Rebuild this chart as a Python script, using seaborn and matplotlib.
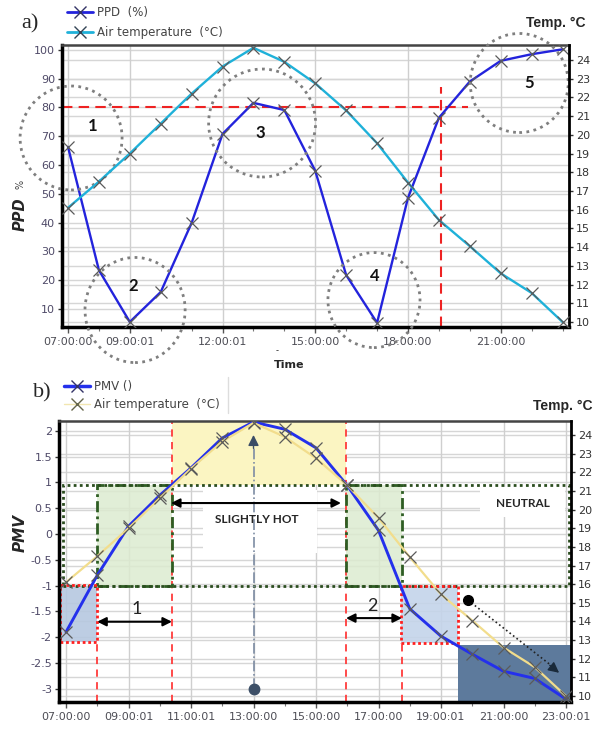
import matplotlib
matplotlib.use('Agg')
import matplotlib.pyplot as plt
import seaborn as sns
from matplotlib.patches import Ellipse, Rectangle
from matplotlib.lines import Line2D

# hourly readings, 07:00 .. 23:00
hours = [7, 8, 9, 10, 11, 12, 13, 14, 15, 16, 17, 18, 19, 20, 21, 22, 23]
ppd = [66.3, 23.5, 5.5, 15.9, 39.9, 70.8, 81.6, 79.1, 58.0, 21.8, 5.2, 48.6, 76.4, 89.0, 96.2, 98.5, 100.2]
air_temp = [16.1, 17.5, 19.0, 20.6, 22.2, 23.65, 24.65, 23.9, 22.75, 21.3, 19.55, 17.45, 15.45, 14.05, 12.6, 11.55, 10.0]
pmv = [-1.9, -0.8, 0.15, 0.75, 1.28, 1.86, 2.17, 2.03, 1.67, 0.94, 0.07, -1.45, -1.98, -2.33, -2.66, -2.8, -3.2]

ticks_a = [7, 9, 12, 15, 18, 21]
labels_a = ["07:00:00", "09:00:01", "12:00:01", "15:00:00", "18:00:00", "21:00:00"]
ticks_b = [7, 9, 11, 13, 15, 17, 19, 21, 23]
labels_b = ["07:00:00", "09:00:01", "11:00:01", "13:00:00", "15:00:00",
            "17:00:00", "19:00:01", "21:00:00", "23:00:01"]
ppd_ticks = [10, 20, 30, 40, 50, 60, 70, 80, 90, 100]
pmv_ticks = [-3, -2.5, -2, -1.5, -1, -0.5, 0, 0.5, 1, 1.5, 2]
temp_ticks = list(range(10, 25))

sns.set_style("white")
plt.rcParams['font.family'] = ['DejaVu Sans']

GRID = '#d6d6d6'
MARK = '#5a5a5a'

fig = plt.figure(figsize=(5.96, 7.29), dpi=100)
W, H = 596, 729
ax_a = fig.add_axes([62 / W, 1 - 327 / H, (569 - 62) / W, (327 - 45) / H])
ax_b = fig.add_axes([59 / W, 1 - 702 / H, (571 - 59) / W, (702 - 421) / H])


def setup(ax, xlim, ylim, y2lim, xt, xl, yt):
    ax2 = ax.twinx()
    ax.set_xlim(xlim)
    ax.set_ylim(ylim)
    ax2.set_ylim(y2lim)
    ax.set_xticks(xt)
    ax.set_xticklabels(xl)
    ax.set_xticks(hours, minor=True)
    ax.set_yticks(yt)
    ax.set_yticklabels([f"{v:g}" for v in yt])
    ax2.set_yticks(temp_ticks)
    ax.grid(False)
    ax2.grid(False)
    # gridlines for both scales drawn on the main axes
    for v in yt:
        ax.axhline(v, color=GRID, lw=1, zorder=0.3)
    for t in temp_ticks:
        yy = ylim[0] + (t - y2lim[0]) / (y2lim[1] - y2lim[0]) * (ylim[1] - ylim[0])
        ax.axhline(yy, color=GRID, lw=1, zorder=0.3)
    for v in xt:
        ax.axvline(v, color='#cfcfcf', lw=1, zorder=0.3)
    ax.tick_params(axis='y', left=True, length=3, width=1, color='#333333',
                   labelsize=8, labelcolor='#4f4a68', pad=2)
    ax.tick_params(axis='x', which='major', bottom=True, length=4, width=1,
                   color='#555555', labelsize=8, labelcolor='#4d4d55', pad=3)
    ax.tick_params(axis='x', which='minor', bottom=True, length=3, width=0.8, color='#777777')
    ax2.tick_params(axis='y', right=True, length=3, width=1, color='#333333',
                    labelsize=8, labelcolor='#333333', pad=2)
    for s in ax2.spines.values():
        s.set_visible(False)
    ax2.spines['right'].set_visible(True)
    ax2.spines['right'].set_color('black')
    ax2.spines['right'].set_linewidth(2)
    ax.spines['right'].set_visible(False)
    ax.spines['left'].set_linewidth(2.5)
    ax.spines['left'].set_color('black')
    ax.spines['bottom'].set_linewidth(2.5)
    ax.spines['bottom'].set_color('black')
    ax.spines['top'].set_linewidth(1.8)
    ax.spines['top'].set_color('#444444')
    return ax2


# ---------------- panel a ----------------
ax_a2 = setup(ax_a, (6.806, 23.21), (3.75, 101.7), (9.73, 24.8), ticks_a, labels_a, ppd_ticks)

sns.lineplot(x=hours, y=ppd, ax=ax_a, color='#2323dc', lw=1.7, marker='x', markersize=8,
             markeredgecolor=MARK, markeredgewidth=0.9, zorder=3, legend=False)
sns.lineplot(x=hours, y=air_temp, ax=ax_a2, color='#1fb1d9', lw=1.7, marker='x', markersize=8,
             markeredgecolor=MARK, markeredgewidth=0.9, zorder=3, legend=False)

ax_a.plot([6.806, 19.94], [80, 80], color='#ee2222', lw=1.5, ls=(0, (5, 3)), zorder=2)
ax_a.plot([19.07, 19.07], [3.75, 87.1], color='#ee2222', lw=1.5, ls=(0, (5, 3)), zorder=2)

circles = [(7.1, 69.4, 3.3, 36.1), (9.17, 9.65, 3.24, 36.5), (13.28, 74.6, 3.46, 37.5),
           (16.9, 13.1, 2.98, 33.0), (21.6, 88.5, 3.17, 34.4)]
for cx, cy, cw, ch in circles:
    ax_a.add_patch(Ellipse((cx, cy), cw, ch, fill=False, edgecolor='#7f7f7f', lw=2,
                           ls=(0, (1, 1.6)), clip_on=False, zorder=4))
num_pos = [(7.81, 73.6, "1"), (9.1, 18.0, "2"), (13.21, 71.2, "3"), (16.94, 21.5, "4"), (21.92, 88.5, "5")]
for nx, ny, s in num_pos:
    ax_a.text(nx, ny, s, ha='center', va='center', fontsize=12, fontweight='bold',
              family=['Lato', 'DejaVu Sans'], color='#111111', zorder=5)

fig.text(30 / W, 1 - 24 / H, "a)", fontsize=16, family=['Liberation Serif'], ha='center', va='center')
fig.text(556 / W, 1 - 23 / H, "Temp. °C", fontsize=10, fontweight='bold', ha='center', va='center',
         family=['Liberation Sans'])
fig.text(20 / W, 1 - 214 / H, "PPD", fontsize=10.5, fontweight='bold', style='italic', rotation=90,
         ha='center', va='center')
fig.text(20 / W, 1 - 184 / H, "%", fontsize=7, rotation=90, ha='center', va='center', color='#444444')
fig.text(289 / W, 1 - 365 / H, "Time", fontsize=8, fontweight='bold', ha='center', va='center')
fig.text(277 / W, 1 - 351 / H, "-", fontsize=6, ha='center', va='center')

h_a = [Line2D([], [], color='#2323dc', lw=2, marker='x', markersize=8, markeredgecolor='#333366'),
       Line2D([], [], color='#1fb1d9', lw=2, marker='x', markersize=8, markeredgecolor='#334455')]
fig.legend(h_a, ["PPD  (%)", "Air temperature  (°C)"], loc='upper left',
           bbox_to_anchor=(67 / W, 1 - 6 / H), frameon=False, fontsize=8.5, handlelength=2.2,
           handletextpad=0.3, labelspacing=0.6, borderpad=0, borderaxespad=0, labelcolor='#444444')

# ---------------- panel b ----------------
ax_b2 = setup(ax_b, (6.776, 23.16), (-3.256, 2.19), (9.68, 24.75), ticks_b, labels_b, pmv_ticks)

# shaded zones
ax_b.add_patch(Rectangle((10.39, 0.94), 15.96 - 10.39, 2.19 - 0.94, facecolor='#fbf5c2',
                         edgecolor='none', zorder=1))
for x0, x1 in [(8.0, 10.39), (15.96, 17.76)]:
    ax_b.add_patch(Rectangle((x0, -1.0), x1 - x0, 1.94, facecolor='#dcebd0', alpha=0.85,
                             edgecolor='none', zorder=1))
ax_b.add_patch(Rectangle((6.81, -2.09), 8.0 - 6.81, 1.09, facecolor='#b6c8e0', alpha=0.9,
                         edgecolor='none', zorder=1))
ax_b.add_patch(Rectangle((17.72, -2.12), 19.54 - 17.72, 1.12, facecolor='#c4d4ea', alpha=0.9,
                         edgecolor='none', zorder=1))
ax_b.add_patch(Rectangle((19.54, -3.256), 23.16 - 19.54, 3.256 - 2.15, facecolor='#5d7a9c',
                         edgecolor='none', zorder=1))

# white label boxes
ax_b.add_patch(Rectangle((11.38, -0.37), 15.03 - 11.38, 1.22, facecolor='white', edgecolor='none', zorder=1.5))
ax_b.add_patch(Rectangle((20.25, 0.33), 22.97 - 20.25, 0.58, facecolor='white', edgecolor='none', zorder=1.5))

# red dashed guides
red_dash = dict(color='#ff3b3b', lw=1.3, ls=(0, (4, 3)), zorder=2)
ax_b.plot([8.0, 8.0], [-3.256, -2.09], **red_dash)
ax_b.plot([10.39, 10.39], [-3.256, 2.19], **red_dash)
ax_b.plot([15.96, 15.96], [-3.256, 2.19], **red_dash)
ax_b.plot([17.74, 17.74], [-3.256, -2.12], **red_dash)

# green dash-dot boxes
for x0, x1 in [(8.0, 10.39), (15.96, 17.76)]:
    ax_b.add_patch(Rectangle((x0, -1.0), x1 - x0, 1.94, fill=False, edgecolor='#2e5d23', lw=2,
                             ls=(0, (4, 1.5, 1, 1.5)), zorder=2.2))
# neutral zone, dark dotted
ax_b.add_patch(Rectangle((6.9, -1.0), 23.1 - 6.9, 1.94, fill=False, edgecolor='#2b4d1f', lw=2,
                         ls=(0, (1, 1.2)), zorder=2.3))
# red dotted boxes
for x0, y0, x1, y1 in [(6.81, -2.09, 8.0, -0.98), (17.72, -2.12, 19.54, -1.0)]:
    ax_b.add_patch(Rectangle((x0, y0), x1 - x0, y1 - y0, fill=False, edgecolor='#ff2020', lw=2,
                             ls=(0, (1, 1)), zorder=2.4))

# 13:00 peak marker
ax_b.plot([13, 13], [-3, 1.72], color='#7d8ca3', lw=1.2, ls='-.', zorder=2.5)
ax_b.annotate('', xy=(13, 1.92), xytext=(13, 1.66),
              arrowprops=dict(arrowstyle='-|>', color='#3b4d66', lw=1, mutation_scale=16,
                              shrinkA=0, shrinkB=0), zorder=4)
ax_b.plot([13], [-3], marker='o', markersize=7.5, color='#3e5068', zorder=4)

# cooling trend
ax_b.plot([19.86, 22.55], [-1.28, -2.56], color='#222222', lw=1.2, ls=':', zorder=4)
ax_b.annotate('', xy=(22.78, -2.69), xytext=(22.48, -2.545),
              arrowprops=dict(arrowstyle='-|>', color='#1a2a3a', lw=1, mutation_scale=16,
                              shrinkA=0, shrinkB=0), zorder=4)
ax_b.plot([19.86], [-1.28], marker='o', markersize=7, color='black', zorder=4)

# duration arrows
arr = dict(arrowstyle='<|-|>', color='black', lw=1.5, mutation_scale=13, shrinkA=0, shrinkB=0)
ax_b.annotate('', xy=(10.39, -1.7), xytext=(8.0, -1.7), arrowprops=arr, zorder=4)
ax_b.annotate('', xy=(17.75, -1.63), xytext=(15.96, -1.63), arrowprops=arr, zorder=4)
ax_b.annotate('', xy=(15.8, 0.6), xytext=(10.36, 0.6), arrowprops=arr, zorder=4)
ax_b.text(9.27, -1.45, "1", fontsize=13, ha='center', va='center', family=['Lato', 'DejaVu Sans'],
          color='#222222', zorder=5)
ax_b.text(16.79, -1.40, "2", fontsize=13, ha='center', va='center', family=['Lato', 'DejaVu Sans'],
          color='#222222', zorder=5)
ax_b.text(13.1, 0.29, "SLIGHTLY HOT", fontsize=8.5, fontweight='bold', ha='center', va='center',
          family=['Lato', 'DejaVu Sans'], zorder=5)
ax_b.text(21.62, 0.6, "NEUTRAL", fontsize=8.5, fontweight='bold', ha='center', va='center',
          family=['Lato', 'DejaVu Sans'], zorder=5)

sns.lineplot(x=hours, y=pmv, ax=ax_b, color='#2430ec', lw=2.1, marker='x', markersize=8,
             markeredgecolor=MARK, markeredgewidth=0.9, zorder=3, legend=False)
sns.lineplot(x=hours, y=air_temp, ax=ax_b2, color='#f2dd8c', lw=1.6, marker='x', markersize=8,
             markeredgecolor=MARK, markeredgewidth=0.9, zorder=3, legend=False)

fig.text(42 / W, 1 - 393 / H, "b)", fontsize=16, family=['Liberation Serif'], ha='center', va='center')
fig.text(563 / W, 1 - 406 / H, "Temp. °C", fontsize=10, fontweight='bold', ha='center', va='center',
         family=['Liberation Sans'])
fig.text(20 / W, 1 - 533 / H, "PMV", fontsize=11, fontweight='bold', style='italic', rotation=90,
         ha='center', va='center')
fig.add_artist(Line2D([228 / W, 228 / W], [1 - 377 / H, 1 - 413 / H], color='#dddddd', lw=1))

h_b = [Line2D([], [], color='#2430ec', lw=2.5, marker='x', markersize=8, markeredgecolor='#333366'),
       Line2D([], [], color='#f2e6b0', lw=1, marker='x', markersize=8, markeredgecolor='#66664a')]
fig.legend(h_b, ["PMV ()", "Air temperature  (°C)"], loc='upper left',
           bbox_to_anchor=(64 / W, 1 - 380 / H), frameon=False, fontsize=8.5, handlelength=2.2,
           handletextpad=0.3, labelspacing=0.45, borderpad=0, borderaxespad=0, labelcolor='#444444')

fig.savefig("out.png", dpi=100)
